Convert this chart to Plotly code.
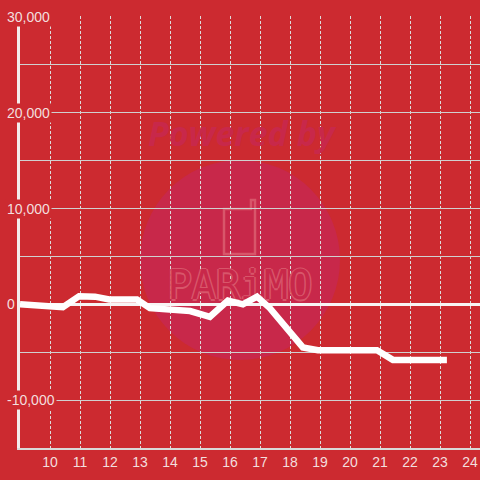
import plotly.graph_objects as go

# ---- data ----
x_vals = [9.0, 10.43, 10.97, 11.5, 11.97, 12.9, 13.33, 14.67, 15.33, 15.93,
          16.43, 16.9, 17.33, 18.43, 18.93, 20.9, 21.43, 23.23]
y_vals = [0, -300, 850, 800, 500, 500, -400, -700, -1300, 400,
          0, 800, -400, -4500, -4800, -4800, -5800, -5800]
y_tick_vals = [30000, 20000, 10000, 0, -10000]
y_tick_text = ["30,000", "20,000", "10,000", "0", "-10,000"]
x_tick_vals = list(range(10, 25))
x_tick_text = [str(v) for v in x_tick_vals]

BG = "#cc2a30"
W, H = 480, 480
L, R, T, B = 20, 0, 16, 32
PW, PH = W - L - R, H - T - B
X0, XR = 9, PW / 30
Y0, Y1 = -15000, 30100


def px(x):
    return (x - L) / PW


def py(y):
    return (H - B - y) / PH


fig = go.Figure()
# watermark logo text (drawn under the line)
fig.add_trace(go.Scatter(x=[X0 + px(240) * XR], y=[Y0 + py(289) * (Y1 - Y0)],
                         mode="text", text=["PARiMO"], textposition="middle center",
                         textfont=dict(family="DejaVu Sans Mono", size=40, color="#c8284a",
                                       shadow="1.5px 0 0 #d8566a, -1.5px 0 0 #d8566a, 0 1.5px 0 #d8566a, 0 -1.5px 0 #d8566a"),
                         hoverinfo="skip", showlegend=False))
fig.add_trace(go.Scatter(x=x_vals, y=y_vals, mode="lines",
                         line=dict(color="#ffffff", width=6.5),
                         hoverinfo="skip", showlegend=False))

shapes = [
    dict(type="circle", xref="paper", yref="paper", layer="below",
         x0=px(140), x1=px(340), y0=py(360), y1=py(160),
         fillcolor="#c8284a", line=dict(width=0)),
    dict(type="path", xref="paper", yref="paper", layer="below",
         path=(f"M {px(224)},{py(254)} L {px(224)},{py(209)} "
               f"L {px(251)},{py(209)} L {px(251)},{py(200)} "
               f"L {px(255)},{py(200)} L {px(255)},{py(254)} Z"),
         line=dict(color="#d8566a", width=2.5)),
]

annotations = [
    dict(xref="paper", yref="paper", x=px(242), y=py(133), text="Powered by",
         showarrow=False, xanchor="center", yanchor="middle",
         font=dict(family="Open Sans", size=34, color="#c8284a",
                   weight="bold", style="italic")),
]
for v, t in zip(y_tick_vals, y_tick_text):
    annotations.append(dict(xref="paper", yref="y", x=px(5), y=v, text=t,
                            showarrow=False, xanchor="left", yanchor="middle",
                            bgcolor=BG, borderpad=1,
                            font=dict(family="Liberation Sans", size=14,
                                      color="#f3dede")))

fig.update_layout(
    width=W, height=H,
    margin=dict(l=L, r=R, t=T, b=B),
    paper_bgcolor=BG, plot_bgcolor=BG,
    shapes=shapes, annotations=annotations,
    showlegend=False,
    xaxis=dict(range=[X0, X0 + XR], tickvals=x_tick_vals, ticktext=x_tick_text,
               showgrid=True, gridcolor="#dcdcdc", gridwidth=1, griddash="3px,2px",
               showline=True, linecolor="#d9d9d9", linewidth=2,
               zeroline=False, ticks="", ticklen=0,
               tickfont=dict(family="Liberation Sans", size=14, color="#f3dede")),
    yaxis=dict(range=[Y0, Y1], tickvals=[-15000, -10000, -5000, 0, 5000, 10000,
                                         15000, 20000, 25000, 30000],
               showticklabels=False, showgrid=True, gridcolor="#d0d0d0", gridwidth=1,
               showline=True, linecolor="#f3ecec", linewidth=3,
               zeroline=True, zerolinecolor="#f8f4f4", zerolinewidth=3,
               ticks=""),
)

fig.write_html("out.html", config={"displayModeBar": False},
               post_script="document.body.style.margin='0';document.body.style.background='%s';" % BG)
